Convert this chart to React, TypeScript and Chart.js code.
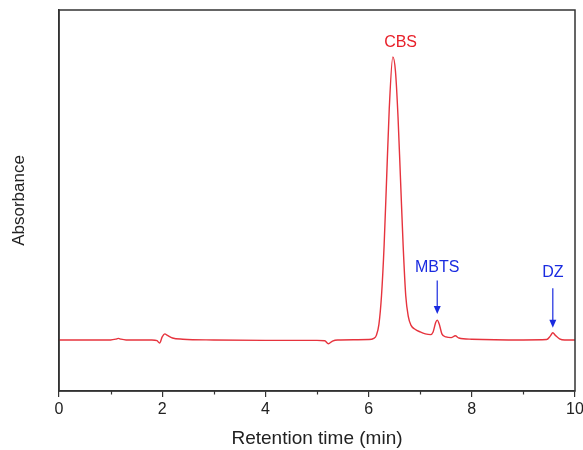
import React, { useEffect, useRef } from "react";
import { Chart, registerables } from "chart.js";

Chart.register(...registerables);

const times = [0, 0.5, 1.0, 1.1, 1.15, 1.2, 1.3, 1.8, 1.9, 1.95, 2.0, 2.05, 2.1, 2.2, 2.4, 3, 4, 5, 5.15, 5.22, 5.3, 5.4, 6, 6.1, 6.15, 6.2, 6.25, 6.3, 6.35, 6.4, 6.47, 6.52, 6.57, 6.62, 6.67, 6.72, 6.77, 6.82, 6.9, 7.0, 7.1, 7.2, 7.25, 7.3, 7.33, 7.37, 7.42, 7.5, 7.6, 7.68, 7.75, 8, 9, 9.45, 9.52, 9.57, 9.62, 9.7, 9.8, 10];
const absorbance = [13.4, 13.4, 13.4, 13.6, 13.8, 13.6, 13.4, 13.4, 13.2, 12.6, 14.2, 15.0, 14.6, 13.9, 13.6, 13.4, 13.3, 13.3, 13.2, 12.4, 13.1, 13.4, 13.5, 13.8, 14.6, 17.5, 25, 38, 56, 74, 87.7, 84, 72, 55, 38, 25, 19.5, 17.3, 16.2, 15.5, 15.0, 14.8, 15.5, 18, 18.6, 17.5, 15, 14.2, 14, 14.5, 13.9, 13.6, 13.4, 13.5, 14.4, 15.3, 14.6, 13.7, 13.4, 13.4];

const peakLabels = ["CBS", "MBTS", "DZ"];
const labelX = [6.62, 7.33, 9.57];
const labelY = [91.5, 32.5, 31];
const arrowFrom = [null, 29, 27];
const arrowTo = [null, 20.2, 16.6];
const labelColors = ["#e8202a", "#1a2be0", "#1a2be0"];

const xMin = 0, xMax = 10, yMin = 0, yMax = 100;
const FONT = "'Liberation Sans', Arial, sans-serif";

export default function App() {
  const ref = useRef<HTMLCanvasElement>(null);
  useEffect(() => {
    const annot = {
      id: "annot",
      afterDatasetsDraw(chart: any) {
        const { ctx, chartArea, scales } = chart;
        const xs = scales.x, ys = scales.y;
        ctx.save();
        ctx.strokeStyle = "#333";
        ctx.lineWidth = 1.5;
        ctx.strokeRect(chartArea.left, chartArea.top, chartArea.right - chartArea.left, chartArea.bottom - chartArea.top);
        ctx.lineWidth = 1.2;
        for (let v = 1; v < xMax; v += 2) {
          const px = Math.round(xs.getPixelForValue(v)) + 0.5;
          ctx.beginPath();
          ctx.moveTo(px, chartArea.bottom);
          ctx.lineTo(px, chartArea.bottom + 3.5);
          ctx.stroke();
        }
        ctx.font = "16px " + FONT;
        ctx.textAlign = "center";
        ctx.textBaseline = "middle";
        for (let i = 0; i < peakLabels.length; i++) {
          const px = xs.getPixelForValue(labelX[i]);
          ctx.fillStyle = labelColors[i];
          ctx.fillText(peakLabels[i], px, ys.getPixelForValue(labelY[i]));
          const a = arrowFrom[i], b = arrowTo[i];
          if (a != null && b != null) {
            const y1 = ys.getPixelForValue(a), y2 = ys.getPixelForValue(b);
            ctx.strokeStyle = labelColors[i];
            ctx.fillStyle = labelColors[i];
            ctx.lineWidth = 1.2;
            ctx.beginPath();
            ctx.moveTo(px, y1);
            ctx.lineTo(px, y2 - 6);
            ctx.stroke();
            ctx.beginPath();
            ctx.moveTo(px - 3.5, y2 - 8);
            ctx.lineTo(px + 3.5, y2 - 8);
            ctx.lineTo(px, y2);
            ctx.closePath();
            ctx.fill();
          }
        }
        ctx.restore();
      },
    };
    const chart = new Chart(ref.current!, {
      type: "line",
      data: {
        datasets: [
          {
            data: times.map((t, i) => ({ x: t, y: absorbance[i] })),
            borderColor: "#e6333d",
            borderWidth: 1.4,
            pointRadius: 0,
            cubicInterpolationMode: "monotone",
            fill: false,
          },
        ],
      },
      options: {
        responsive: false,
        animation: false,
        layout: { padding: { top: 10, right: 8, left: 0, bottom: 0 } },
        plugins: { legend: { display: false }, tooltip: { enabled: false } },
        scales: {
          x: {
            type: "linear",
            min: xMin,
            max: xMax,
            afterFit: (s: any) => { s.height = 59; s.paddingRight = 0; s.paddingLeft = 0; },
            ticks: {
              stepSize: 2,
              color: "#222",
              font: { size: 16, family: FONT },
              padding: 3,
              maxRotation: 0,
            },
            grid: { drawOnChartArea: false, drawTicks: true, tickLength: 6, color: "#333", lineWidth: 1.2 },
            border: { display: true, color: "#333", width: 1.5 },
            title: {
              display: true,
              text: "Retention time (min)",
              color: "#222",
              font: { size: 19, family: FONT },
              padding: { top: 4, bottom: 0 },
            },
          },
          y: {
            type: "linear",
            min: yMin,
            max: yMax,
            afterFit: (s: any) => { s.width = 59; },
            ticks: { display: false },
            grid: { display: false },
            border: { display: true, color: "#333", width: 1.5 },
            title: {
              display: true,
              text: "Absorbance",
              color: "#222",
              font: { size: 17, family: FONT },
              padding: { top: 9, bottom: 0 },
            },
          },
        },
      },
      plugins: [annot],
    });
    return () => chart.destroy();
  }, []);
  return (
    <div style={{ position: "fixed", left: 0, top: 0, width: 583, height: 450, background: "#fff" }}>
      <canvas ref={ref} width={583} height={450} style={{ width: 583, height: 450 }} />
    </div>
  );
}
